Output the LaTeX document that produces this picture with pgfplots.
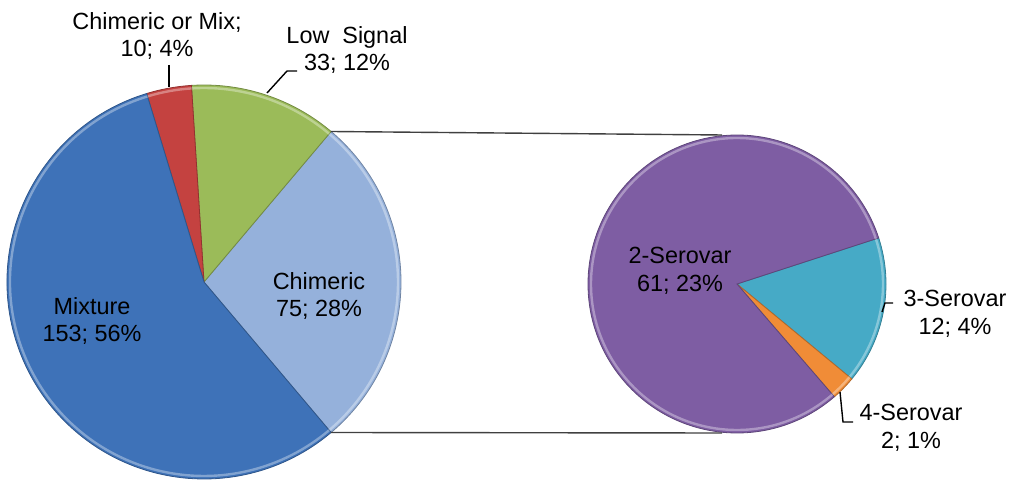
\documentclass[border=0pt]{standalone}
\usepackage{pgfplots}
\pgfplotsset{compat=1.18}
\usepackage{fontspec}
\setmainfont{Liberation Sans}

\definecolor{cMix}{RGB}{62,114,184}
\definecolor{cChim}{RGB}{149,177,219}
\definecolor{cLow}{RGB}{155,187,89}
\definecolor{cCoM}{RGB}{196,66,64}
\definecolor{cTwo}{RGB}{126,93,163}
\definecolor{cThr}{RGB}{70,170,198}
\definecolor{cFou}{RGB}{240,140,55}

\tikzset{lab/.style={font=\fontsize{11.75}{14}\selectfont, align=center, inner sep=0pt}}

% counts
\def\vMix{153}
\def\vChim{75}
\def\vLow{33}
\def\vCoM{10}
\def\vTwo{61}
\def\vThr{12}
\def\vFou{2}

% slice: cx, cy (axis units), radius, start, end, colour
\newcommand\slice[6]{%
  \fill[#6, draw=#6!75!black, line width=0.4bp]
    (axis cs:#1,#2) -- ++(#4:#3) arc[start angle=#4, end angle=#5, radius=#3] -- cycle;
  \draw[white, opacity=0.35, line width=1.2bp]
    ([shift={(#4:#3-1.5bp)}]axis cs:#1,#2) arc[start angle=#4, end angle=#5, radius=#3-1.5bp];}

\begin{document}
\begin{tikzpicture}
\pgfmathsetmacro\totL{\vMix+\vChim+\vLow+\vCoM}
\pgfmathsetmacro\aChimS{-180*(\vChim/\totL)}
\pgfmathsetmacro\aChimE{180*(\vChim/\totL)}
\pgfmathsetmacro\aLowE{\aChimE+360*(\vLow/\totL)}
\pgfmathsetmacro\aCoME{\aLowE+360*(\vCoM/\totL)}
\pgfmathsetmacro\aMixE{\aCoME+360*(\vMix/\totL)}
\pgfmathsetmacro\totR{\vTwo+\vThr+\vFou}
\pgfmathsetmacro\aThrS{18}
\pgfmathsetmacro\aThrE{\aThrS-360*(\vThr/\totR)}
\pgfmathsetmacro\aFouE{\aThrE-360*(\vFou/\totR)}
\pgfmathsetmacro\aTwoE{\aFouE-360*(\vTwo/\totR)}
\begin{axis}[
  width=506.5bp, height=241bp, scale only axis,
  xmin=0, xmax=1013, ymin=0, ymax=482,
  hide axis, clip=false,
]
\coordinate (bl) at (rel axis cs:0,0);
\coordinate (tr) at (rel axis cs:1,1);
% left pie
\slice{204}{200}{98.5bp}{\aChimS}{\aChimE}{cChim}
\slice{204}{200}{98.5bp}{\aChimE}{\aLowE}{cLow}
\slice{204}{200}{98.5bp}{\aLowE}{\aCoME}{cCoM}
\slice{204}{200}{98.5bp}{\aCoME}{\aMixE}{cMix}
% right pie
\slice{737}{198}{74.5bp}{\aThrS}{\aThrE}{cThr}
\slice{737}{198}{74.5bp}{\aThrE}{\aFouE}{cFou}
\slice{737}{198}{74.5bp}{\aFouE}{\aTwoE}{cTwo}
% connectors
\draw[black!75, line width=0.7bp] (axis cs:331,350.5) -- (axis cs:722,347);
\draw[black!75, line width=0.7bp] (axis cs:331,49.5) -- (axis cs:722,49);
% leader lines
\draw[black, line width=0.7bp] (axis cs:169,417) -- (axis cs:169,395);
\draw[black, line width=0.7bp] (axis cs:297,411) -- (axis cs:287,411) -- (axis cs:267,389);
\draw[black, line width=0.7bp] (axis cs:882,170) -- (axis cs:885,179) -- (axis cs:893,179);
\draw[black, line width=0.7bp] (axis cs:840,90) -- (axis cs:843,60) -- (axis cs:853,60);
% labels
\node[lab] at (axis cs:157,446) {Chimeric or Mix;\\10; 4\%};
\node[lab] at (axis cs:347,432) {Low\ \ Signal\\33; 12\%};
\node[lab] at (axis cs:92,161) {Mixture\\153; 56\%};
\node[lab] at (axis cs:319,186) {Chimeric\\75; 28\%};
\node[lab] at (axis cs:680,211) {2-Serovar\\61; 23\%};
\node[lab] at (axis cs:955,168) {3-Serovar\\12; 4\%};
\node[lab] at (axis cs:911,54) {4-Serovar\\2; 1\%};
\end{axis}
\pgfresetboundingbox
\path (bl) rectangle (tr);
\end{tikzpicture}
\end{document}
